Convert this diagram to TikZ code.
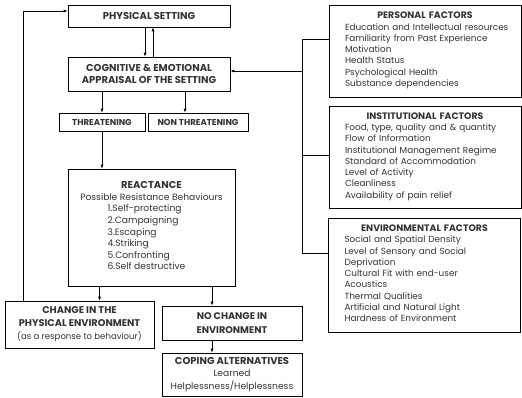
\documentclass[tikz,border=0pt]{standalone}
\usepackage{fontspec}
\setmainfont{Poppins}
\usetikzlibrary{positioning, arrows.meta}

\tikzset{
    box/.style={draw, rectangle, line width=0.7pt, inner xsep=2pt, inner ysep=1pt, align=center, text=black!80},
    head/.style={font=\fontsize{10}{12.5}\selectfont\bfseries},
    factors/.style={box, text width=176bp, inner xsep=8bp, align=left, font=\fontsize{8.9}{11.3}\selectfont},
    arr/.style={-{Latex[length=4pt,width=3pt]}, line width=0.7pt}
}
\newcommand{\facthead}[1]{{\centering\fontsize{9.4}{11.3}\selectfont\bfseries #1\par}}

\begin{document}
\begin{tikzpicture}[x=1bp, y=-1bp]
    \useasboundingbox (0,0) rectangle (522,397);

    \node[box, head, minimum width=162bp, minimum height=22bp] (phys) at (149,16) {PHYSICAL SETTING};
    \node[box, head, minimum width=162bp, minimum height=34bp] (cog) at (149,74) {COGNITIVE \& EMOTIONAL\\APPRAISAL OF THE SETTING};
    \node[box, font=\fontsize{8.6}{10}\selectfont\bfseries, minimum width=86bp, minimum height=18bp] (threat) at (102,122) {THREATENING};
    \node[box, font=\fontsize{8.6}{10}\selectfont\bfseries, minimum width=100bp, minimum height=18bp] (nonthreat) at (198,122) {NON THREATENING};

    \node[box, font=\fontsize{9.2}{11.6}\selectfont, minimum width=167bp, minimum height=117bp] (react) at (151.5,227.5)
        {{\fontsize{10}{11.6}\selectfont\bfseries REACTANCE}\\Possible Resistance Behaviours\\
         \hspace*{-10bp}\begin{tabular}[t]{@{}l@{}}1.Self-protecting\\2.Campaigning\\3.Escaping\\4.Striking\\5.Confronting\\6.Self destructive\end{tabular}};

    \node[box, font=\fontsize{8.6}{13}\selectfont, minimum width=149bp, minimum height=47bp] (change) at (79.5,324.5)
        {{\fontsize{9.8}{13}\selectfont\bfseries CHANGE IN THE}\\{\fontsize{9.8}{13}\selectfont\bfseries PHYSICAL ENVIRONMENT}\\(as a response to behaviour)};
    \node[box, font=\fontsize{9.7}{14}\selectfont\bfseries, minimum width=140bp, minimum height=34bp] (nochange) at (232,323) {NO CHANGE IN\\ENVIRONMENT};
    \node[box, font=\fontsize{9.2}{12.5}\selectfont, minimum width=140bp, minimum height=43bp] (coping) at (232,374.5)
        {{\fontsize{10}{12.5}\selectfont\bfseries COPING ALTERNATIVES}\\Learned\\Helplessness/Helplessness};

    \node[factors, minimum height=92bp] (personal) at (425,51)
        {\facthead{PERSONAL FACTORS}
         \begin{tabular}[t]{@{\hspace{8bp}}l@{}}Education and Intellectual resources\\Familiarity from Past Experience\\Motivation\\Health Status\\Psychological Health\\Substance dependencies\end{tabular}};
    \node[factors, minimum height=102bp] (inst) at (425,157)
        {\facthead{INSTITUTIONAL FACTORS}
         \begin{tabular}[t]{@{\hspace{8bp}}l@{}}Food, type, quality and \& quantity\\Flow of Information\\Institutional Management Regime\\Standard of Accommodation\\Level of Activity\\Cleanliness\\Availability of pain relief\end{tabular}};
    \node[factors, minimum height=114bp] (env) at (424.5,275)
        {\facthead{ENVIRONMENTAL FACTORS}
         \begin{tabular}[t]{@{\hspace{8bp}}l@{}}Social and Spatial Density\\Level of Sensory and Social\\Deprivation\\Cultural Fit with end-user\\Acoustics\\Thermal Qualities\\Artificial and Natural Light\\Hardness of Environment\end{tabular}};

    % main flow
    \draw[arr] ([xshift=-4bp]phys.south) -- ([xshift=-4bp]cog.north);
    \draw[arr] ([xshift=4bp]cog.north) -- ([xshift=4bp]phys.south);
    \draw[arr] (threat.north |- cog.south) -- (threat.north);
    \draw[arr] ([xshift=-13bp]nonthreat.north |- cog.south) -- ([xshift=-13bp]nonthreat.north);
    \draw[arr] (threat.south) -- (threat.south |- react.north);
    \draw[arr] ([xshift=20bp]change.north |- react.south) -- ([xshift=20bp]change.north);
    \draw[arr] ([xshift=-20bp]nochange.north |- react.south) -- ([xshift=-20bp]nochange.north);
    \draw[arr] ([xshift=-20bp]nochange.south) -- ([xshift=-20bp]coping.north);
    \draw[arr] ([xshift=-56.5bp]change.north) |- ([yshift=5bp]phys.west);

    % factors bracket
    \coordinate (jtop) at (302,39);
    \coordinate (jmid) at (302,155);
    \coordinate (jbot) at (302,253);
    \coordinate (jcog) at (302,71);
    \draw[line width=0.7pt] (jtop) -- (jbot);
    \draw[line width=0.7pt] (jtop) -- (jtop -| personal.west);
    \draw[line width=0.7pt] (jmid) -- (jmid -| inst.west);
    \draw[line width=0.7pt] (jbot) -- (jbot -| env.west);
    \draw[arr] (jcog) -- (jcog -| cog.east);
\end{tikzpicture}
\end{document}
